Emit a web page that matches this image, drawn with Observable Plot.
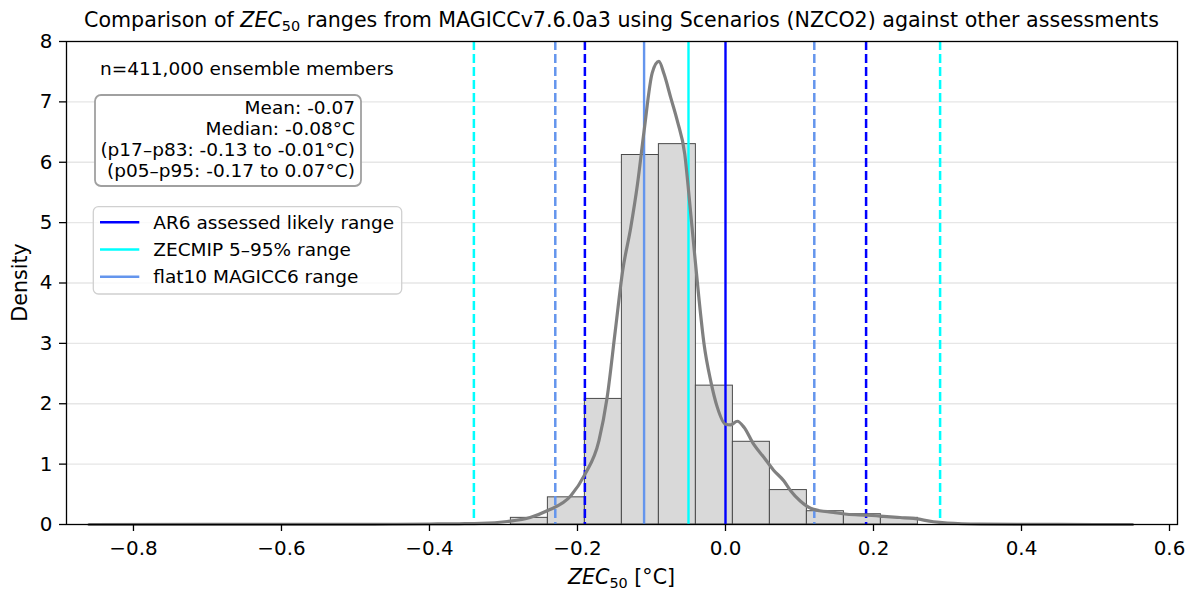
<!DOCTYPE html>
<html>
<head>
<meta charset="utf-8">
<script src="https://cdn.jsdelivr.net/npm/d3@7"></script>
<script src="https://cdn.jsdelivr.net/npm/@observablehq/plot@0.6"></script>
<style>
  body { margin: 0; background: #fff; }
  #chart { width: 1195px; height: 591px; }
</style>
</head>
<body>
<div id="chart"></div>
<script>
// ---------- data ----------
const binLo      = [-0.29, -0.24, -0.19, -0.14, -0.09, -0.04, 0.01, 0.06, 0.11, 0.16, 0.21];
const binHi      = [-0.24, -0.19, -0.14, -0.09, -0.04, 0.01, 0.06, 0.11, 0.16, 0.21, 0.26];
const binDensity = [0.11, 0.45, 2.08, 6.12, 6.30, 2.30, 1.37, 0.57, 0.22, 0.17, 0.11];

const kdeX = [-0.86, -0.70, -0.60, -0.50, -0.45, -0.40, -0.36, -0.33, -0.295, -0.264, -0.241, -0.209, -0.19,
              -0.171, -0.16, -0.149, -0.139, -0.128, -0.119, -0.110, -0.099, -0.090, -0.083, -0.074, -0.065,
              -0.055, -0.049, -0.043, -0.036, -0.029, -0.020, -0.011, 0.0, 0.007, 0.016, 0.025, 0.038, 0.052,
              0.065, 0.079, 0.088, 0.101, 0.119, 0.146, 0.164, 0.191, 0.209, 0.236, 0.254, 0.281, 0.30, 0.345,
              0.40, 0.45, 0.55];
const kdeY = [0.0, 0.0005, 0.001, 0.002, 0.004, 0.008, 0.012, 0.018, 0.05, 0.116, 0.227, 0.475, 0.83,
              1.39, 2.10, 3.2, 4.2, 4.92, 5.63, 6.52, 7.48, 7.67, 7.46, 7.07, 6.68,
              6.13, 5.41, 4.64, 3.76, 2.99, 2.38, 1.94, 1.66, 1.65, 1.71, 1.61, 1.33, 1.11,
              0.90, 0.72, 0.56, 0.39, 0.25, 0.20, 0.17, 0.155, 0.14, 0.116, 0.10, 0.045, 0.025, 0.007,
              0.002, 0.001, 0.0];

const ar6Central = 0.0,    ar6Range = [-0.19, 0.19];
const zecmipCentral = -0.05, zecmipRange = [-0.34, 0.29];
const flat10Central = -0.11, flat10Range = [-0.23, 0.12];

const seriesNames  = ["AR6 assessed likely range", "ZECMIP 5–95% range", "flat10 MAGICC6 range"];
const seriesColors = ["#0000ff", "#00ffff", "#6495ed"];

const xTicks = [-0.8, -0.6, -0.4, -0.2, 0.0, 0.2, 0.4, 0.6];
const yTicks = [0, 1, 2, 3, 4, 5, 6, 7, 8];

const countText = "n=411,000 ensemble members";
const statsLines = ["Mean: -0.07", "Median: -0.08°C", "(p17–p83: -0.13 to -0.01°C)", "(p05–p95: -0.17 to 0.07°C)"];

// ---------- derived tables ----------
const bins = binLo.map((lo, i) => ({x1: lo, x2: binHi[i], y: binDensity[i]}));
const kde = kdeX.map((x, i) => ({x, y: kdeY[i]}));
const solidLines = [
  {x: flat10Central, c: seriesColors[2]},
  {x: zecmipCentral, c: seriesColors[1]},
  {x: ar6Central, c: seriesColors[0]}
];
const dashedLines = [
  {x: zecmipRange[0], c: seriesColors[1]}, {x: zecmipRange[1], c: seriesColors[1]},
  {x: flat10Range[0], c: seriesColors[2]}, {x: flat10Range[1], c: seriesColors[2]},
  {x: ar6Range[0], c: seriesColors[0]}, {x: ar6Range[1], c: seriesColors[0]}
];

const FS = 19.9, FST = 20.6, FSL = 20.6, FS2 = 18.5;

const plot = Plot.plot({
  width: 1195, height: 591,
  marginTop: 41, marginBottom: 67, marginLeft: 66, marginRight: 18,
  style: {fontFamily: "'DejaVu Sans', sans-serif", fontSize: FS + "px", background: "white", color: "black"},
  x: {domain: [-0.8905, 0.6108]},
  y: {domain: [0, 8]},
  marks: [
    Plot.gridY(yTicks.slice(1, -1), {stroke: "#e6e6e6", strokeOpacity: 1, strokeWidth: 1.3}),
    Plot.rectY(bins, {x1: "x1", x2: "x2", y: "y", fill: "#d9d9d9", stroke: "#4a4a4a", strokeWidth: 1, inset: 0}),
    Plot.ruleX(dashedLines, {x: "x", stroke: "c", strokeWidth: 2.5, strokeDasharray: "9,4"}),
    Plot.ruleX(solidLines, {x: "x", stroke: "c", strokeWidth: 2.4}),
    Plot.line(kde, {x: "x", y: "y", stroke: "#808080", strokeWidth: 3.2, curve: "monotone-x"}),
    Plot.frame({stroke: "black", strokeWidth: 1.3}),
    Plot.axisX(xTicks, {tickFormat: d3.format(".1f"), tickSize: 7, tickPadding: 9, label: null, strokeWidth: 1.3}),
    Plot.axisY(yTicks, {tickFormat: d3.format("d"), tickSize: 7, tickPadding: 7, label: null, strokeWidth: 1.3})
  ]
});
document.getElementById("chart").appendChild(plot);

// ---------- text annotations ----------
const svg = d3.select(plot);
const ff = "'DejaVu Sans', sans-serif";

// title
const t = svg.append("text").attr("x", 621.5).attr("y", 26.7).attr("text-anchor", "middle")
  .style("font-size", FST + "px").style("font-family", ff).attr("fill", "black");
t.append("tspan").text("Comparison of ");
t.append("tspan").attr("font-style", "italic").text("ZEC");
t.append("tspan").attr("font-size", (FST * 0.7) + "px").attr("dy", 4).text("50");
t.append("tspan").attr("dy", -4).text(" ranges from MAGICCv7.6.0a3 using Scenarios (NZCO2) against other assessments");

// x label
const xl = svg.append("text").attr("x", 621.5).attr("y", 584).attr("text-anchor", "middle")
  .style("font-size", FSL + "px").style("font-family", ff).attr("fill", "black");
xl.append("tspan").attr("font-style", "italic").text("ZEC");
xl.append("tspan").attr("font-size", (FSL * 0.7) + "px").attr("dy", 4).text("50");
xl.append("tspan").attr("dy", -4).text(" [°C]");

// y label
svg.append("text").attr("transform", "translate(27,282.5) rotate(-90)").attr("text-anchor", "middle")
  .style("font-size", FSL + "px").style("font-family", ff).attr("fill", "black").text("Density");

// count text
svg.append("text").attr("x", 100).attr("y", 75).attr("text-anchor", "start")
  .style("font-size", FS2 + "px").style("font-family", ff).attr("fill", "black").text(countText);

// stats box
svg.append("rect").attr("x", 95).attr("y", 95).attr("width", 266).attr("height", 91).attr("rx", 6)
  .attr("fill", "white").attr("stroke", "#a0a0a0").attr("stroke-width", 1.8);
statsLines.forEach((s, i) => {
  svg.append("text").attr("x", 355).attr("y", 114.3 + i * 20.8).attr("text-anchor", "end")
    .style("font-size", FS2 + "px").style("font-family", ff).attr("fill", "black").text(s);
});

// legend
svg.append("rect").attr("x", 93.3).attr("y", 206.7).attr("width", 308.4).attr("height", 87.3).attr("rx", 5)
  .attr("fill", "white").attr("fill-opacity", 0.8).attr("stroke", "#d0d0d0").attr("stroke-width", 1.3);
seriesNames.forEach((name, i) => {
  const cy = 222.3 + i * 27.2;
  svg.append("line").attr("x1", 100).attr("x2", 139.3).attr("y1", cy).attr("y2", cy)
    .attr("stroke", seriesColors[i]).attr("stroke-width", 2.5);
  svg.append("text").attr("x", 153.3).attr("y", cy + 6.5).attr("text-anchor", "start")
    .style("font-size", FS2 + "px").style("font-family", ff).attr("fill", "black").text(name);
});
</script>
</body>
</html>
